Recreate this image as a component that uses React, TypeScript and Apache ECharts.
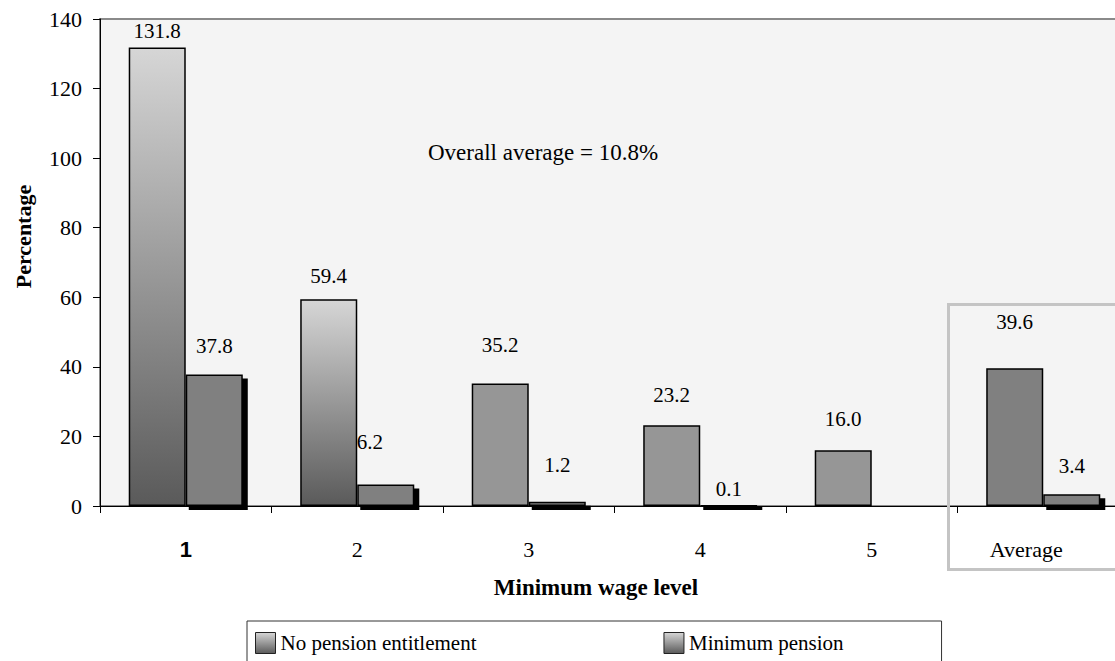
import React, { useEffect, useRef } from 'react';
import * as echarts from 'echarts';

// ---- data ----
const categories = ['1', '2', '3', '4', '5', 'Average'];
const noPension: (number | null)[] = [131.8, 59.4, 35.2, 23.2, 16.0, 39.6];
const minPension: (number | null)[] = [37.8, 6.2, 1.2, 0.1, null, 3.4];
const seriesNames = ['No pension entitlement', 'Minimum pension'];
const yMin = 0;
const yMax = 140;
const yStep = 20;
const annotation = 'Overall average = 10.8%';
const xTitle = 'Minimum wage level';
const yTitle = 'Percentage';

// ---- styles (not data) ----
const noPensionFill = ['grad', 'grad', '#969696', '#969696', '#969696', '#808080'];
const noPensionLabelDist = [6, 13, 28, 20, 21, 36];
const minPensionLabelDist = [18, 32, 26, 6, 0, 18];
const minPensionLabelShiftX = [0, -16, 0, 0, 0, 0];
const CATEGORY_GAP = 0.335;

const SERIF = '"Liberation Serif", "Times New Roman", serif';
const SANS = '"Liberation Sans", Arial, sans-serif';

const CHART_W = 1140;
const CHART_H = 661;

const grad = () =>
  new echarts.graphic.LinearGradient(0, 0, 0, 1, [
    { offset: 0, color: '#d6d6d6' },
    { offset: 1, color: '#5a5a5a' },
  ]);

export default function App() {
  const ref = useRef<HTMLDivElement>(null);

  useEffect(() => {
    if (!ref.current) return;
    const chart = echarts.init(ref.current, null, { renderer: 'svg' });

    const labelFont = {
      color: '#000',
      fontFamily: SERIF,
      fontSize: 21,
    };
    const labelBase = {
      show: true,
      position: 'top',
      ...labelFont,
      formatter: (p: any) =>
        p.value == null || p.value === '-' ? '' : Number(p.value).toFixed(1),
    };

    const shadowData = minPension
      .map((v, i) => (v == null ? null : [i, v]))
      .filter((d) => d !== null);

    const option: any = {
      animation: false,
      backgroundColor: '#ffffff',
      textStyle: { fontFamily: SERIF, color: '#000' },
      grid: {
        left: 100,
        top: 19,
        right: CHART_W - 1129,
        bottom: CHART_H - 506,
        show: true,
        backgroundColor: '#f4f4f4',
        borderColor: '#8a8a8a',
        borderWidth: 2,
      },
      legend: {
        left: 247,
        top: 621,
        orient: 'horizontal',
        padding: [11, 98, 30, 8],
        itemGap: 187,
        itemWidth: 20,
        itemHeight: 21,
        borderColor: '#333',
        borderWidth: 1,
        selectedMode: false,
        textStyle: { fontFamily: SERIF, fontSize: 21, color: '#000' },
        data: seriesNames.map((n) => ({
          name: n,
          icon: 'rect',
          itemStyle: { color: grad(), borderColor: '#222', borderWidth: 1 },
        })),
      },
      xAxis: {
        type: 'category',
        data: categories,
        boundaryGap: true,
        name: xTitle,
        nameLocation: 'middle',
        nameGap: 70,
        nameTextStyle: {
          fontFamily: SERIF,
          fontWeight: 'bold',
          fontSize: 23,
          color: '#000',
          padding: [0, 37, 0, 0],
        },
        axisLine: { lineStyle: { color: '#000', width: 1 } },
        axisTick: { show: true, inside: false, length: 7, lineStyle: { color: '#000' } },
        axisLabel: {
          interval: 0,
          margin: 32,
          fontFamily: SERIF,
          fontSize: 22,
          color: '#000',
          formatter: (v: string) =>
            v === '1' ? '{b|' + v + '}' : v === 'Average' ? '{avg|' + v + '}' : v,
          rich: {
            b: { fontFamily: SANS, fontWeight: 'bold', fontSize: 22, color: '#000' },
            avg: { fontFamily: SERIF, fontSize: 22, color: '#000', padding: [0, 34, 0, 0] },
          },
        },
        splitLine: { show: false },
      },
      yAxis: {
        type: 'value',
        min: yMin,
        max: yMax,
        interval: yStep,
        name: yTitle,
        nameLocation: 'middle',
        nameGap: 66,
        nameTextStyle: {
          fontFamily: SERIF,
          fontWeight: 'bold',
          fontSize: 22,
          color: '#000',
          padding: [0, 0, 0, 52],
        },
        axisLine: { show: true, lineStyle: { color: '#000', width: 1 } },
        axisTick: { show: true, inside: false, length: 7, lineStyle: { color: '#000' } },
        axisLabel: { margin: 18, fontFamily: SERIF, fontSize: 22, color: '#000' },
        splitLine: { show: false },
      },
      series: [
        {
          name: seriesNames[0],
          type: 'bar',
          barGap: '0%',
          barCategoryGap: CATEGORY_GAP * 100 + '%',
          z: 3,
          itemStyle: { borderColor: '#000', borderWidth: 1.5 },
          emphasis: { disabled: true },
          label: labelBase,
          data: noPension.map((v, i) => ({
            value: v,
            itemStyle: {
              color: noPensionFill[i] === 'grad' ? grad() : noPensionFill[i],
              borderColor: '#000',
              borderWidth: 1.5,
            },
            label: { ...labelFont, distance: noPensionLabelDist[i] },
          })),
        },
        {
          name: seriesNames[1],
          type: 'bar',
          barGap: '0%',
          barCategoryGap: CATEGORY_GAP * 100 + '%',
          z: 3,
          itemStyle: {
            color: '#808080',
            borderColor: '#000',
            borderWidth: 1.5,
          },
          emphasis: { disabled: true },
          label: labelBase,
          data: minPension.map((v, i) => ({
            value: v == null ? '-' : v,
            label: {
              ...labelFont,
              distance: minPensionLabelDist[i],
              offset: [minPensionLabelShiftX[i], 0],
            },
          })),
        },
        {
          name: 'shadow',
          type: 'custom',
          z: 2,
          silent: true,
          encode: { x: 0, y: 1 },
          data: shadowData,
          renderItem: (params: any, api: any) => {
            const idx = api.value(0);
            const v = api.value(1);
            const top = api.coord([idx, v]);
            const base = api.coord([idx, 0]);
            const band = api.size([1, 0])[0];
            const barW = (band * (1 - CATEGORY_GAP)) / 2;
            const x0 = top[0] + 3;
            const x1 = top[0] + barW + 5;
            const y0 = Math.min(top[1] + 4, base[1]);
            const y1 = base[1] + 4;
            return {
              type: 'rect',
              shape: { x: x0, y: y0, width: x1 - x0, height: y1 - y0 },
              style: { fill: '#000' },
            };
          },
        },
      ],
      graphic: [
        {
          type: 'text',
          left: 428,
          top: 141,
          z: 10,
          style: {
            text: annotation,
            fontFamily: SERIF,
            fontSize: 23,
            fill: '#000',
          },
        },
        {
          type: 'rect',
          left: 946,
          top: 302,
          z: 10,
          shape: { width: 220, height: 265 },
          style: { fill: 'none', stroke: '#c4c4c4', lineWidth: 3 },
          silent: true,
        },
      ],
    };

    chart.setOption(option);
    return () => chart.dispose();
  }, []);

  return (
    <div
      style={{
        position: 'fixed',
        left: 0,
        top: 0,
        width: 1115,
        height: CHART_H,
        overflow: 'hidden',
        background: '#fff',
      }}
    >
      <div ref={ref} style={{ width: CHART_W, height: CHART_H }} />
    </div>
  );
}
